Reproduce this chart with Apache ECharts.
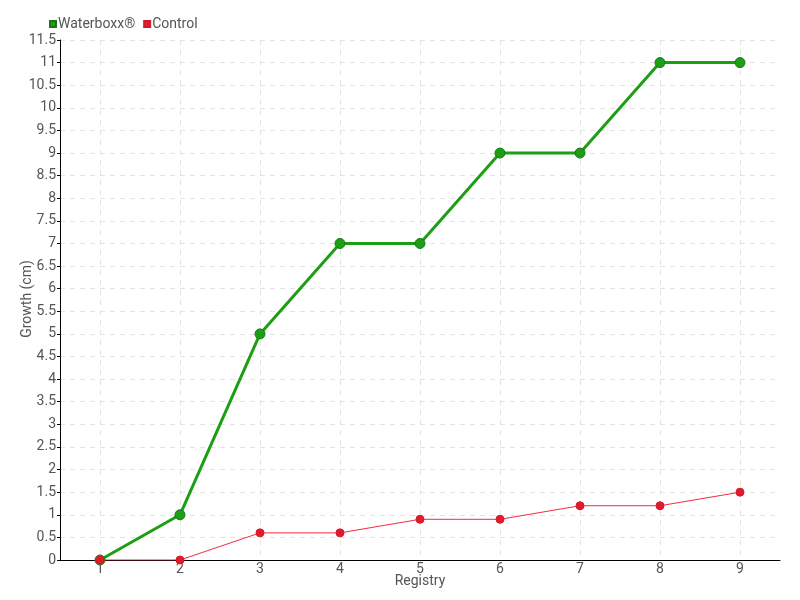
<!DOCTYPE html>
<html><head><meta charset="utf-8">
<script src="https://cdn.jsdelivr.net/npm/echarts@6/dist/echarts.min.js"></script>
<style>html,body{margin:0;padding:0;background:#fff}#c{width:800px;height:600px}</style>
</head><body><div id="c"></div>
<script>
const categories = ['1','2','3','4','5','6','7','8','9'];
const waterboxx = [0, 1, 5, 7, 7, 9, 9, 11, 11];
const control = [0, 0, 0.6, 0.6, 0.9, 0.9, 1.2, 1.2, 1.5];
const seriesNames = ['Waterboxx®', 'Control'];
const xAxisName = 'Registry';
const yAxisName = 'Growth (cm)';
const font = 'Roboto, sans-serif';
const chart = echarts.init(document.getElementById('c'), null, {renderer: 'canvas'});
chart.setOption({
  animation: false,
  textStyle: {fontFamily: font},
  legend: {
    left: 44, top: 12, itemWidth: 6, itemHeight: 6, itemGap: 8,
    icon: 'rect',
    textStyle: {fontFamily: font, fontSize: 14, color: '#555', padding: [0, 0, 0, -3]},
    data: seriesNames
  },
  graphic: [
    {type: 'text', x: 420, y: 581,
     style: {text: xAxisName, font: '14px Roboto, sans-serif', fill: '#555', align: 'center', verticalAlign: 'middle'}},
    {type: 'text', x: 27, y: 299, rotation: Math.PI / 2,
     style: {text: yAxisName, font: '14px Roboto, sans-serif', fill: '#555', align: 'center', verticalAlign: 'middle'}}
  ],
  grid: {left: 60, right: 20, top: 40, bottom: 40, containLabel: false, outerBoundsMode: 'none'},
  xAxis: {
    type: 'category', data: categories, boundaryGap: true,
    axisLine: {lineStyle: {color: '#000', width: 1}},
    axisTick: {alignWithLabel: true, length: 4, lineStyle: {color: '#000'}},
    axisLabel: {fontFamily: font, fontSize: 14, color: '#555', margin: 2},
    splitLine: {show: true, alignWithLabel: true, lineStyle: {color: '#e3e3e3', type: [5, 5]}}
  },
  yAxis: {
    type: 'value', min: 0, max: 11.5, interval: 0.5,
    axisLine: {show: true, lineStyle: {color: '#000', width: 1}},
    axisTick: {show: true, inside: false, length: 3, lineStyle: {color: '#000'}},
    axisLabel: {fontFamily: font, fontSize: 14, color: '#555', margin: 4},
    splitLine: {show: true, lineStyle: {color: '#e3e3e3', type: [5, 5]}}
  },
  series: [
    {
      name: seriesNames[0], type: 'line', data: waterboxx,
      symbol: 'circle', symbolSize: 10,
      lineStyle: {color: '#1e9e14', width: 3},
      itemStyle: {color: '#1e9e14', borderColor: '#16781a', borderWidth: 1},
      z: 3
    },
    {
      name: seriesNames[1], type: 'line', data: control,
      symbol: 'circle', symbolSize: 8,
      lineStyle: {color: '#f42a44', width: 1},
      itemStyle: {color: '#e41a2c', borderColor: '#d01a2a', borderWidth: 1},
      z: 4
    }
  ]
});
</script></body></html>
